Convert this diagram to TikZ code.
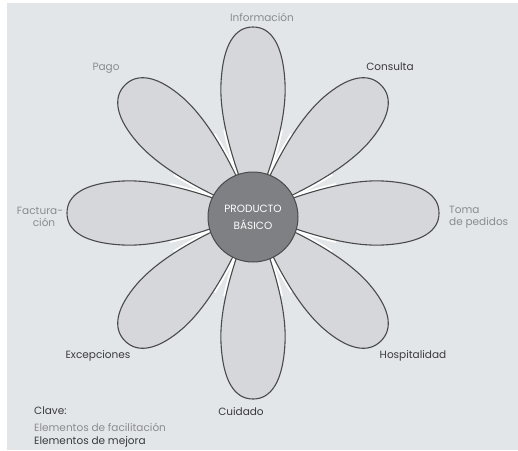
\documentclass[tikz,border=0pt]{standalone}
\usepackage{fontspec}
\setmainfont{Poppins}
\definecolor{bg}{HTML}{E3E6E9}
\definecolor{petalfill}{HTML}{D5D7DA}
\definecolor{petalline}{HTML}{4A4A4C}
\definecolor{corefill}{HTML}{7E8083}
\definecolor{lightlab}{HTML}{8A8B8D}
\definecolor{darklab}{HTML}{3A3A3C}
\tikzset{
  petalhalo/.style={draw=white, line width=5pt},
  petalbody/.style={fill=petalfill, draw=petalline, line width=1.1pt},
  facil/.style={text=lightlab, font=\fontsize{10.5}{12.5}\selectfont, inner sep=0pt},
  mejora/.style={text=darklab, font=\fontsize{10.5}{12.5}\selectfont, inner sep=0pt},
}
% petal along +x, length #1
\newcommand\petalof[1]{(0,0) .. controls (40,-16) and (90,-34) .. (130,-32) .. controls (#1-17,-30) and (#1,-18) .. (#1,0) .. controls (#1,18) and (#1-17,30) .. (130,32) .. controls (90,34) and (40,16) .. (0,0) -- cycle}
\begin{document}
\begin{tikzpicture}[x=1pt,y=-1pt]
\useasboundingbox (0,0) rectangle (518,450);
\clip (0,0) rectangle (518,450);
\fill[white] (0,0) rectangle (518,450);
\fill[bg] (7,3) rectangle (518,450);
% white halos between petals near the core
\begin{scope}
  \clip (253,213) circle (88);
  \foreach \a/\l in {0/186,45/181,90/186,135/181,180/186,225/181,270/186,315/181} {
    \path[petalhalo, shift={(253,213)}, rotate=\a] \petalof{\l};
  }
\end{scope}
% petals
\foreach \a/\l in {0/186,45/181,90/186,135/181,180/186,225/181,270/186,315/181} {
  \path[petalbody, shift={(253,213)}, rotate=\a] \petalof{\l};
}
% core
\node[circle, minimum size=90pt, fill=corefill, draw=petalline, line width=1pt,
      text=white, align=center, inner sep=0pt,
      font=\fontsize{10.5}{17}\selectfont] (core) at (253,217) {PRODUCTO\\BÁSICO};
% labels
\node[facil] (info) at (262,17) {Información};
\node[facil] (pago) at (106,68) {Pago};
\node[mejora] (cons) at (390,67) {Consulta};
\node[facil, align=center] (fact) at (40,217) {Factura-\\\hspace*{8pt}ción};
\node[facil, align=left, anchor=west] (toma) at (449,217) {Toma\\de pedidos};
\node[mejora] (exc) at (98,356) {Excepciones};
\node[mejora] (hosp) at (413,356) {Hospitalidad};
\node[mejora] (cuid) at (241,412) {Cuidado};
\node[mejora, anchor=west] (clave) at (34,411) {Clave:};
\node[facil, anchor=west] (lfac) at (34,427) {Elementos de facilitación};
\node[mejora, anchor=west] (lmej) at (34,442) {Elementos de mejora};
\end{tikzpicture}
\end{document}
